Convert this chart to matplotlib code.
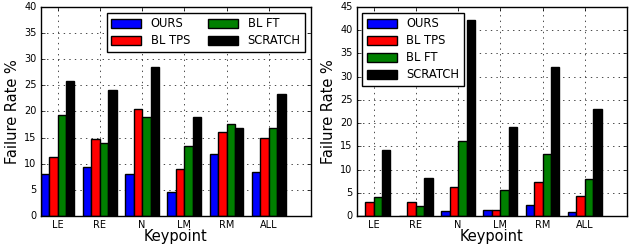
import matplotlib
matplotlib.use("Agg")
import matplotlib.pyplot as plt
import numpy as np

plt.style.use("classic")

keypoints = ["LE", "RE", "N", "LM", "RM", "ALL"]
series_names = ["OURS", "BL TPS", "BL FT", "SCRATCH"]
colors = ["#0000ff", "#ff0000", "#008000", "#000000"]

left_ours = [8.1, 9.3, 8.1, 4.5, 11.8, 8.4]
left_tps = [11.3, 14.7, 20.4, 8.9, 16.0, 15.0]
left_ft = [19.4, 13.9, 18.9, 13.4, 17.7, 16.9]
left_scratch = [25.9, 24.2, 28.5, 18.9, 16.9, 23.4]

right_ours = [0.0, 0.1, 1.1, 1.2, 2.4, 0.9]
right_tps = [3.1, 3.1, 6.2, 1.2, 7.3, 4.2]
right_ft = [4.1, 2.1, 16.2, 5.5, 13.4, 8.0]
right_scratch = [14.2, 8.1, 42.3, 19.2, 32.0, 23.0]

left_ticks = [0, 5, 10, 15, 20, 25, 30, 35, 40]
right_ticks = [0, 5, 10, 15, 20, 25, 30, 35, 40, 45]

fig = plt.figure(figsize=(6.32, 2.45), dpi=100, facecolor="white")
W, H = 632.0, 245.0
ax1 = fig.add_axes([40.7 / W, 29 / H, 270.3 / W, 209 / H])
ax2 = fig.add_axes([356.7 / W, 29 / H, 270.3 / W, 209 / H])

width = 0.2
x = np.arange(len(keypoints))

def draw(ax, data, ticks, legend_loc, ncol):
    for i, (vals, name, c) in enumerate(zip(data, series_names, colors)):
        ax.bar(x + i * width, vals, width, color=c, edgecolor="black",
               linewidth=1.0, label=name, align="edge")
    ax.set_xlim(0, 6.4)
    ax.set_ylim(ticks[0], ticks[-1])
    ax.set_yticks(ticks)
    ax.set_xticks(x + 0.4)
    ax.set_xticklabels(keypoints, fontsize=7)
    ax.tick_params(axis="y", labelsize=7)
    ax.tick_params(axis="both", pad=3, length=3)
    ax.grid(True, linestyle=":", color="black", linewidth=0.5)
    ax.set_axisbelow(True)
    ax.set_xlabel("Keypoint", fontsize=10.5, labelpad=-1)
    ax.set_ylabel("Failure Rate %", fontsize=10.5, labelpad=3)
    leg = ax.legend(loc=legend_loc, ncol=ncol, fontsize=8.3, handlelength=2.6,
                    handleheight=0.9, borderpad=0.4, labelspacing=0.35,
                    columnspacing=1.6, handletextpad=0.8)
    leg.get_frame().set_linewidth(1.0)

draw(ax1, [left_ours, left_tps, left_ft, left_scratch], left_ticks, "upper right", 2)
draw(ax2, [right_ours, right_tps, right_ft, right_scratch], right_ticks, "upper left", 1)

fig.savefig("out.png", dpi=100, facecolor="white")
